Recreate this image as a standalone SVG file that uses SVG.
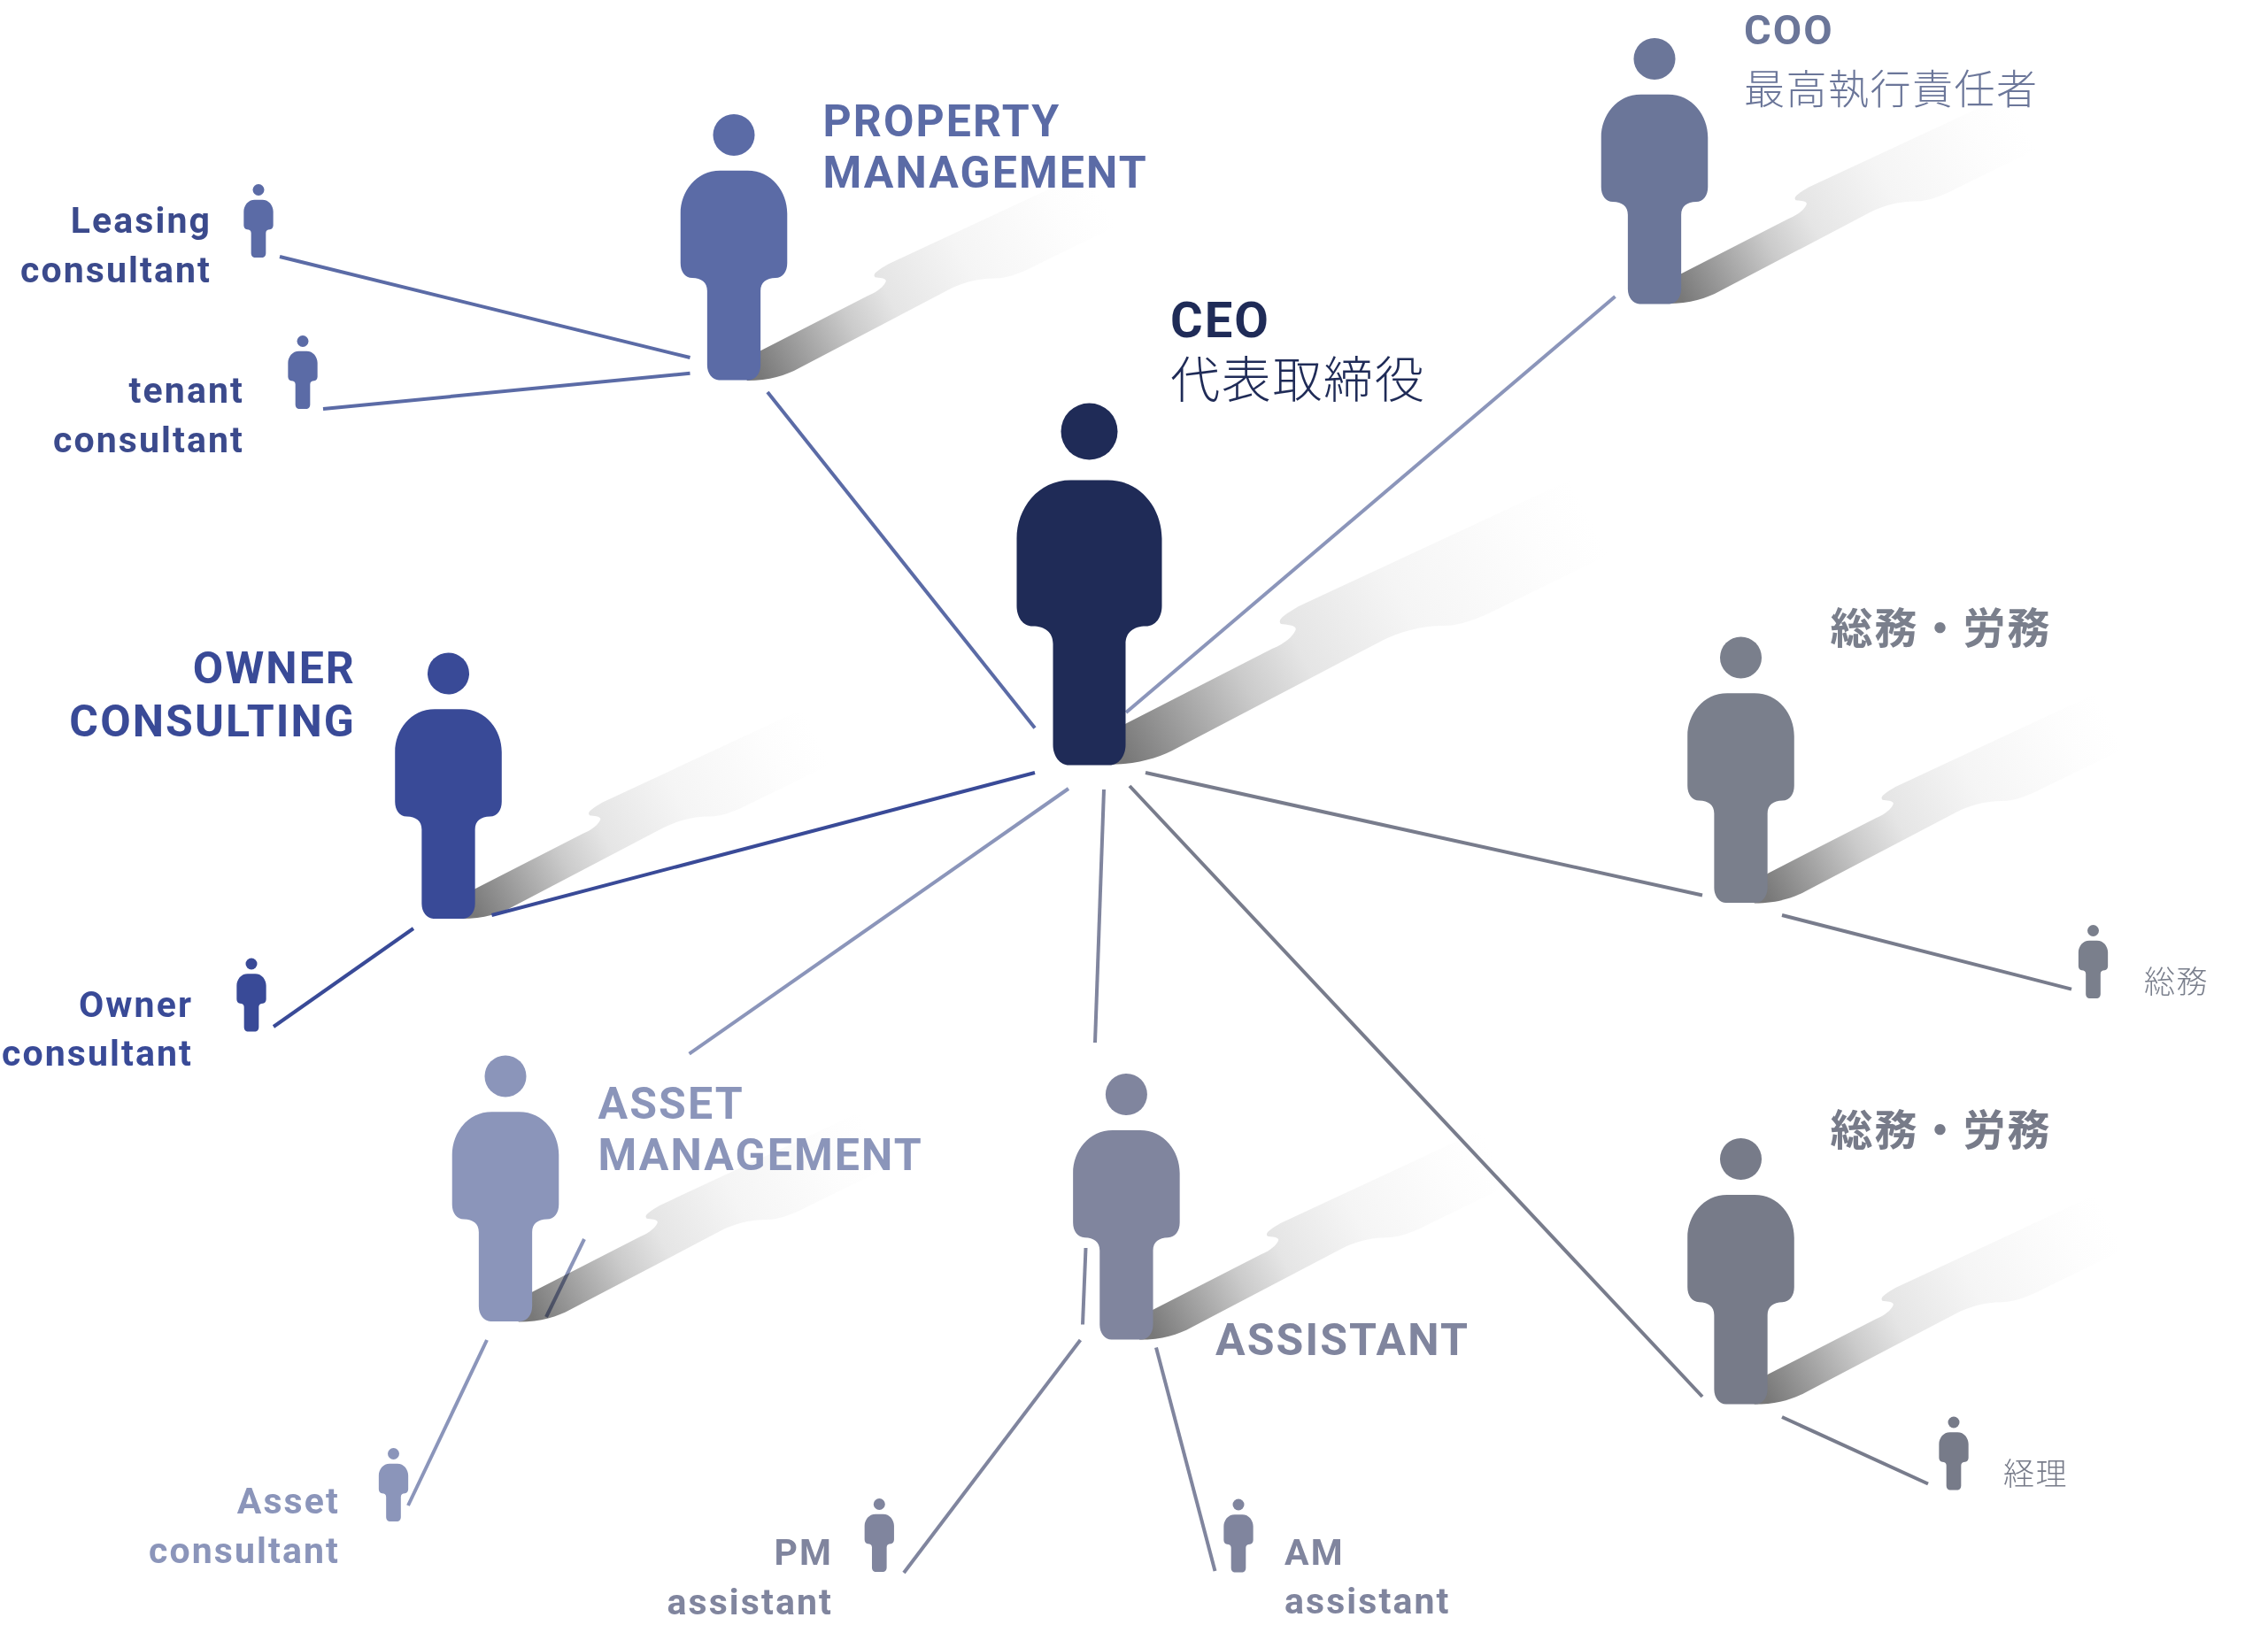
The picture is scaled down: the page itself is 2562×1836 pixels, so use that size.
<svg xmlns="http://www.w3.org/2000/svg" xmlns:xlink="http://www.w3.org/1999/xlink" width="2562" height="1836" viewBox="0 0 2562 1836">
<style>
text{font-family:Roboto,"Noto Sans CJK JP","Noto Sans",sans-serif;font-weight:700;letter-spacing:2.1px}
.t1{font-size:50px}
.t2{font-size:41px}
.j{font-family:"Noto Sans CJK JP","Noto Sans",sans-serif}
.l{font-weight:300;letter-spacing:1.5px}
.end{text-anchor:end}
#connectors line{stroke-width:4;fill:none}
.c-pm{stroke:#5b6ba6}.c-ow{stroke:#394a97}.c-as{stroke:#8b95ba}.c-ai{stroke:#80859e}.c-ga{stroke:#787c8c}
.ceo{fill:#1f2b57}.pm{fill:#5b6ba6}.coo{fill:#6b7699}.own{fill:#394a97}.ast{fill:#8b95ba}.ai{fill:#80859e}.ga1{fill:#7a7f8c}.ga2{fill:#777b89}
.lab{fill:#3b4a8c}
</style>
<defs>
<linearGradient id="sg" gradientUnits="userSpaceOnUse" x1="40" y1="-10" x2="680" y2="-340">
<stop offset="0" stop-color="#787878"/><stop offset=".22" stop-color="#cbcbcb"/><stop offset=".32" stop-color="#e5e5e5"/><stop offset=".5" stop-color="#f5f5f5"/><stop offset=".72" stop-color="#fdfdfd"/><stop offset=".82" stop-color="#fff"/>
</linearGradient>
<path id="shadow" fill="url(#sg)" d="M20,0C55,0 80,-8 100,-19L329,-139C350,-150 375,-157 400,-157C425,-157 450,-170 472,-181L700,-292C740,-340 690,-390 660,-376L237,-179C222,-170 212,-164 217,-159C224,-158 237,-158 233,-151C230,-145 222,-137 207,-131L41,-46L20,-30Z"/>
<g id="fig">
<circle cx="0" cy="-377" r="32"/>
<path d="M-21,-322H21C58,-322 82,-290 82,-256V-180C82,-167 75,-157 64,-157C50,-157 41,-150 41,-137V-23C41,-10 33,0 23,0H-23C-33,0 -41,-10 -41,-23V-137C-41,-150 -50,-157 -64,-157C-75,-157 -82,-167 -82,-180V-256C-82,-290 -58,-322 -21,-322Z"/>
</g>
</defs>
<rect width="2562" height="1836" fill="#fff"/>
<g id="shadows">
<use href="#shadow" transform="translate(1230,864)"/>
<use href="#shadow" transform="translate(829,430) scale(.735)"/>
<use href="#shadow" transform="translate(1869,343) scale(.735)"/>
<use href="#shadow" transform="translate(506.5,1038) scale(.735)"/>
<use href="#shadow" transform="translate(571,1493.5) scale(.735)"/>
<use href="#shadow" transform="translate(1272.4,1513.6) scale(.735)"/>
<use href="#shadow" transform="translate(1967,1020.5) scale(.735)"/>
<use href="#shadow" transform="translate(1967,1586.6) scale(.735)"/>
</g>
<g id="connectors">
<line class="c-pm" x1="867" y1="443" x2="1169" y2="822.5"/>
<line class="c-pm" x1="316" y1="290" x2="779.5" y2="404"/>
<line class="c-pm" x1="365" y1="462" x2="779.5" y2="421.7"/>
<line class="c-as" x1="1824.5" y1="335" x2="1272" y2="805"/>
<line class="c-ow" x1="1169" y1="873" x2="555.5" y2="1034"/>
<line class="c-ow" x1="467" y1="1049" x2="309" y2="1160"/>
<line class="c-as" x1="1207" y1="891" x2="778.6" y2="1190.7"/>
<line class="c-as" x1="550" y1="1514" x2="461" y2="1701"/>
<line class="c-as" x1="660" y1="1400" x2="617" y2="1488" style="mix-blend-mode:multiply"/>
<line class="c-ai" x1="1247" y1="892" x2="1237" y2="1178"/>
<line class="c-ai" x1="1226.5" y1="1410" x2="1223" y2="1496.5"/>
<line class="c-ai" x1="1220.4" y1="1514" x2="1021" y2="1777"/>
<line class="c-ai" x1="1306" y1="1522.5" x2="1372.5" y2="1775"/>
<line class="c-ga" x1="1294" y1="873" x2="1923" y2="1011.5"/>
<line class="c-ga" x1="1276" y1="888" x2="1923" y2="1578"/>
<line class="c-ga" x1="2013" y1="1034" x2="2340" y2="1117.6"/>
<line class="c-ga" x1="2013" y1="1601" x2="2178" y2="1676.5"/>
</g>
<g id="ceo" class="ceo"><use href="#fig" transform="translate(1230.5,864.5)"/><text x="1322" y="381" font-size="56">CEO</text><text x="1322" y="449" class="j l" font-size="56" style="letter-spacing:1.7px">代表取締役</text></g>
<g id="coo" class="coo"><use href="#fig" transform="translate(1869,343.5) scale(.735)"/><text x="1970" y="50" font-size="47">COO</text><text x="1970" y="117" class="j l" font-size="46">最高執行責任者</text></g>
<g id="property-management" class="pm"><use href="#fig" transform="translate(829,429.5) scale(.735)"/><text x="929.5" y="154" class="t1">PROPERTY</text><text x="929.5" y="212" class="t1">MANAGEMENT</text></g>
<g id="leasing" class="pm"><use href="#fig" transform="translate(292,291) scale(.203)"/><text class="t2 end lab" x="239" y="263">Leasing</text><text class="t2 end lab" x="239" y="319">consultant</text></g>
<g id="tenant" class="pm"><use href="#fig" transform="translate(342,462) scale(.203)"/><text class="t2 end lab" x="276" y="455">tenant</text><text class="t2 end lab" x="276" y="510.7">consultant</text></g>
<g id="owner-consulting" class="own"><use href="#fig" transform="translate(506.5,1038) scale(.735)"/><text class="t1 end" x="402" y="772">OWNER</text><text class="t1 end" x="402" y="832">CONSULTING</text></g>
<g id="owner-consultant" class="own"><use href="#fig" transform="translate(284,1165.5) scale(.203)"/><text class="t2 end" x="218" y="1149">Owner</text><text class="t2 end" x="218" y="1204">consultant</text></g>
<g id="asset-management" class="ast"><use href="#fig" transform="translate(571,1493) scale(.735)"/><text class="t1" x="675.5" y="1264">ASSET</text><text class="t1" x="675.5" y="1322">MANAGEMENT</text></g>
<g id="asset-consultant" class="ast"><use href="#fig" transform="translate(444.5,1719) scale(.203)"/><text class="t2 end" x="384" y="1710">Asset</text><text class="t2 end" x="384" y="1766">consultant</text></g>
<g id="assistant" class="ai"><use href="#fig" transform="translate(1272.4,1513.6) scale(.735)"/><text class="t1" x="1373" y="1530.6">ASSISTANT</text></g>
<g id="pm-assistant" class="ai"><use href="#fig" transform="translate(993.3,1776) scale(.203)"/><text class="t2 end" x="941" y="1768">PM</text><text class="t2 end" x="941" y="1824">assistant</text></g>
<g id="am-assistant" class="ai"><use href="#fig" transform="translate(1399,1776.5) scale(.203)"/><text class="t2" x="1451" y="1768">AM</text><text class="t2" x="1451" y="1823">assistant</text></g>
<g id="general-1" class="ga1"><use href="#fig" transform="translate(1966.5,1020) scale(.735)"/><text class="j" x="2067.5" y="727" font-size="48" font-weight="500" style="letter-spacing:2px">総務・労務</text></g>
<g id="general-1-sub" class="ga1"><use href="#fig" transform="translate(2364.5,1128) scale(.203)"/><text class="j l" x="2422" y="1122" font-size="35">総務</text></g>
<g id="general-2" class="ga2"><use href="#fig" transform="translate(1966.5,1586.6) scale(.735)"/><text class="j" x="2067.5" y="1294" font-size="48" font-weight="500" style="letter-spacing:2px">総務・労務</text></g>
<g id="general-2-sub" class="ga2"><use href="#fig" transform="translate(2207,1683.5) scale(.203)"/><text class="j l" x="2263" y="1678" font-size="35">経理</text></g>
</svg>
